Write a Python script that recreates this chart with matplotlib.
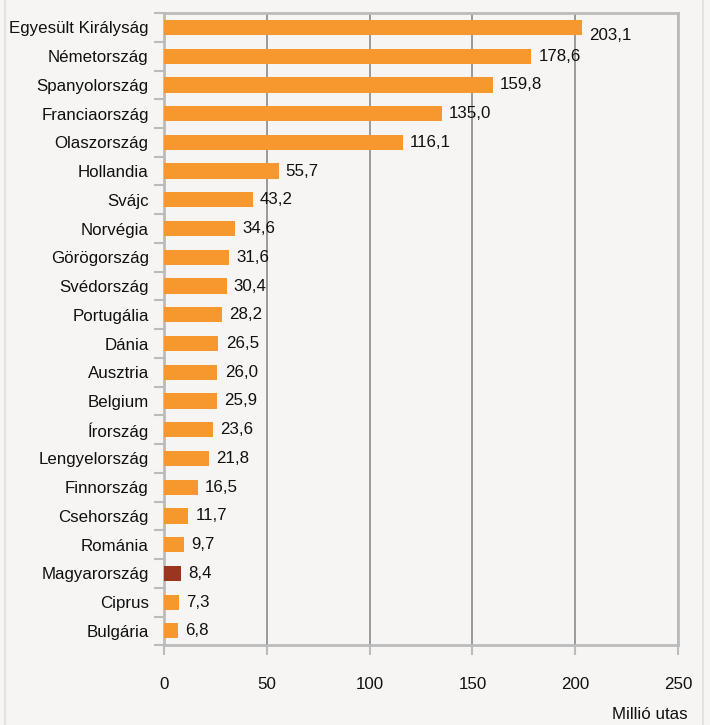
import matplotlib
matplotlib.use("Agg")
import matplotlib.pyplot as plt
from matplotlib.lines import Line2D

plt.rcParams['font.family'] = ['Liberation Sans', 'DejaVu Sans']

countries = ["Egyesült Királyság", "Németország", "Spanyolország", "Franciaország",
             "Olaszország", "Hollandia", "Svájc", "Norvégia", "Görögország",
             "Svédország", "Portugália", "Dánia", "Ausztria", "Belgium", "Írország",
             "Lengyelország", "Finnország", "Csehország", "Románia", "Magyarország",
             "Ciprus", "Bulgária"]
values = [203.1, 178.6, 159.8, 135.0, 116.1, 55.7, 43.2, 34.6, 31.6, 30.4, 28.2,
          26.5, 26.0, 25.9, 23.6, 21.8, 16.5, 11.7, 9.7, 8.4, 7.3, 6.8]
highlight = "Magyarország"
xticks = [0, 50, 100, 150, 200, 250]

bg = "#f6f5f3"
orange = "#f7982f"
dark = "#9a3520"
fs = 12.2

fig = plt.figure(figsize=(7.1, 7.25), dpi=100, facecolor=bg)
ax = fig.add_axes([0.231, 0.110, 0.724, 0.872])
ax.set_facecolor(bg)

# side borders of the panel
fig.add_artist(Line2D([0.007, 0.007], [0, 1], color="#e2e2e2", lw=1.5, transform=fig.transFigure))
fig.add_artist(Line2D([0.99, 0.99], [0, 1], color="#e2e2e2", lw=1.5, transform=fig.transFigure))

ypos = list(range(len(countries)))
colors = [dark if c == highlight else orange for c in countries]
ax.barh(ypos, values, height=0.53, color=colors, zorder=3)

for i, v in enumerate(values):
    dy = 0.28 if i == 0 else 0
    ax.text(v + 3.5, i + dy, f"{v:.1f}".replace(".", ","), va="center", ha="left",
            fontsize=fs, color="#111111", zorder=4)

ax.set_ylim(len(countries) - 0.5, -0.5)
ax.set_xlim(0, 250)
ax.set_yticks(ypos)
ax.set_yticklabels(countries, fontsize=fs, color="#111111")
ax.set_yticks([i + 0.5 for i in range(-1, len(countries))], minor=True)
ax.tick_params(axis="y", which="major", length=0, pad=11)
ax.tick_params(axis="y", which="minor", length=7, color="#bbbbbb", width=1.5)
ax.set_xticks(xticks)
ax.set_xticklabels([str(t) for t in xticks], fontsize=fs, color="#111111")
ax.tick_params(axis="x", length=7, color="#bbbbbb", width=1.5, pad=16)

ax.grid(axis="x", color="#8a8a8a", lw=1.2, zorder=1)
for s in ax.spines.values():
    s.set_color("#bbbbbb")
    s.set_linewidth(2)

fig.text(0.969, 0.004, "Millió utas", ha="right", va="bottom", fontsize=fs, color="#111111")

fig.savefig("out.png", dpi=100, facecolor=bg)
